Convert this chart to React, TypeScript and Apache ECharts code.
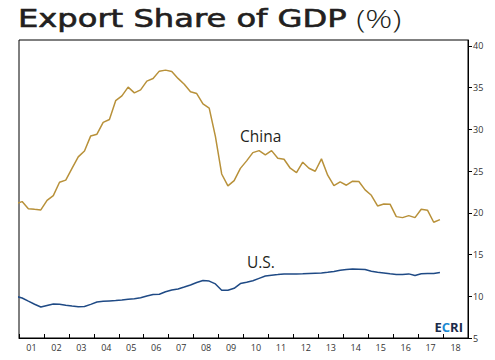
import React, { useEffect, useRef } from "react";
import * as echarts from "echarts";

// Quarterly observations, first point 2000Q4, last point 2017Q4
const firstYear = 2000;
const firstQuarter = 4;

const chinaValues = [
  21.09, 21.34, 20.49, 20.41, 20.34, 21.48, 22.06, 23.66, 23.91, 25.32, 26.7, 27.41,
  29.21, 29.42, 30.83, 31.18, 33.43, 34.01, 35.05, 34.37, 34.73, 35.77, 36.08, 36.97,
  37.09, 36.93, 36.1, 35.39, 34.49, 34.28, 33.05, 32.53, 29.12, 24.65, 23.22, 23.85,
  25.32, 26.22, 27.21, 27.45, 26.94, 27.45, 26.54, 26.42, 25.34, 24.81, 26.06, 25.34,
  24.98, 26.46, 24.5, 23.26, 23.7, 23.3, 23.78, 23.74, 22.74, 22.1, 20.82, 21.06,
  21.03, 19.54, 19.42, 19.66, 19.42, 20.43, 20.31, 18.87, 19.18,
];

const usValues = [
  10.0, 9.79, 9.41, 9.04, 8.71, 8.89, 9.07, 9.03, 8.92, 8.82, 8.73, 8.77,
  9.03, 9.31, 9.39, 9.44, 9.49, 9.56, 9.64, 9.7, 9.82, 10.04, 10.2, 10.25,
  10.54, 10.74, 10.88, 11.11, 11.35, 11.64, 11.88, 11.82, 11.48, 10.71, 10.71, 10.95,
  11.52, 11.68, 11.86, 12.14, 12.42, 12.53, 12.6, 12.68, 12.68, 12.68, 12.69, 12.73,
  12.77, 12.8, 12.88, 12.98, 13.11, 13.2, 13.27, 13.25, 13.2, 13.0, 12.88, 12.8,
  12.69, 12.6, 12.62, 12.68, 12.48, 12.69, 12.72, 12.72, 12.84,
];

const yearLabels = [
  "01", "02", "03", "04", "05", "06", "07", "08", "09",
  "10", "11", "12", "13", "14", "15", "16", "17", "18",
];

const yTickValues = [5, 10, 15, 20, 25, 30, 35, 40];

// position of a quarter (middle of the quarter) on the year scale
function quarterPos(i: number): number {
  const qIndex = firstQuarter - 1 + i;
  const year = firstYear + Math.floor(qIndex / 4);
  const q = qIndex % 4;
  return year + (q + 0.5) / 4;
}

const chinaData = chinaValues.map((v, i) => [quarterPos(i), v]);
const usData = usValues.map((v, i) => [quarterPos(i), v]);

export default function App() {
  const ref = useRef<HTMLDivElement>(null);
  useEffect(() => {
    if (!ref.current) return;
    const chart = echarts.init(ref.current, undefined, { renderer: "svg" });
    const labelFont = "Open Sans";
    chart.setOption({
      animation: false,
      backgroundColor: "#ffffff",
      grid: {
        left: 19,
        right: 27,
        top: 40,
        bottom: 22,
        show: true,
        borderColor: "#000",
        borderWidth: 1,
        backgroundColor: "transparent",
      },
      xAxis: [
        {
          type: "value",
          min: 2001,
          max: 2019,
          interval: 1,
          axisLine: { show: true, lineStyle: { color: "#000", width: 1 } },
          axisTick: { show: true, inside: true, length: 4, lineStyle: { color: "#000" } },
          axisLabel: { show: false },
          splitLine: { show: false },
        },
        {
          type: "category",
          data: yearLabels,
          boundaryGap: true,
          position: "bottom",
          axisLine: { show: false },
          axisTick: { show: false },
          axisLabel: {
            show: true,
            interval: 0,
            fontSize: 9,
            fontFamily: labelFont,
            color: "#333",
            margin: 5,
          },
          splitLine: { show: false },
        },
      ],
      yAxis: {
        type: "value",
        position: "right",
        min: 5,
        max: 40.7,
        interval: 5,
        axisLine: { show: true, lineStyle: { color: "#000", width: 1 } },
        axisTick: {
          show: true,
          inside: false,
          length: 4,
          lineStyle: { color: "#000" },
          customValues: yTickValues,
        },
        axisLabel: {
          show: true,
          fontSize: 9,
          fontFamily: labelFont,
          color: "#333",
          margin: 5,
          customValues: yTickValues,
        },
        splitLine: { show: false },
      },
      series: [
        {
          name: "China",
          type: "line",
          xAxisIndex: 0,
          data: chinaData,
          showSymbol: false,
          lineStyle: { color: "#B8913A", width: 1.5 },
          clip: true,
        },
        {
          name: "U.S.",
          type: "line",
          xAxisIndex: 0,
          data: usData,
          showSymbol: false,
          lineStyle: { color: "#1F4A85", width: 1.5 },
          clip: true,
        },
      ],
      graphic: [
        {
          type: "text",
          x: 18,
          y: 6,
          scaleX: 1.34,
          style: {
            text: "{a|Export Share of GDP}{s| }{b|(%)}",
            rich: {
              a: {
                fontFamily: "DejaVu Sans",
                fontSize: 24,
                fontWeight: "normal",
                fill: "#231f20",
                stroke: "#231f20",
                lineWidth: 0.6,
              },
              s: { fontFamily: "DejaVu Sans", fontSize: 22 },
              b: {
                fontFamily: "Open Sans",
                fontSize: 25,
                fontWeight: 300,
                fill: "#231f20",
              },
            },
          },
        },
        {
          type: "text",
          x: 240,
          y: 136,
          style: {
            text: "China",
            fontFamily: labelFont,
            fontSize: 15.5,
            fill: "#231f20",
            textVerticalAlign: "middle",
          },
        },
        {
          type: "text",
          x: 247,
          y: 262,
          style: {
            text: "U.S.",
            fontFamily: labelFont,
            fontSize: 15.5,
            fill: "#231f20",
            textVerticalAlign: "middle",
          },
        },
        {
          type: "text",
          x: 463,
          y: 327,
          style: {
            text: "{e|E}{c|C}{e|RI}",
            textAlign: "right",
            textVerticalAlign: "middle",
            rich: {
              e: { fontFamily: labelFont, fontSize: 13, fontWeight: "bold", fill: "#1c2b4a" },
              c: { fontFamily: labelFont, fontSize: 13, fontWeight: "bold", fill: "#1a8ad4" },
            },
          },
        },
      ],
    });
    return () => chart.dispose();
  }, []);
  return (
    <div
      ref={ref}
      style={{ position: "fixed", left: 0, top: 0, width: 495, height: 360 }}
    />
  );
}
